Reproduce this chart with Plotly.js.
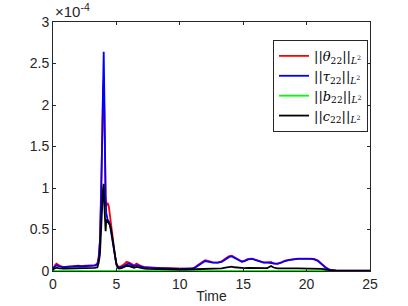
<!DOCTYPE html>
<html><head><meta charset="utf-8">
<script src="https://cdn.plot.ly/plotly-3.0.1.min.js"></script>
<style>html,body{margin:0;padding:0;background:#fff}#chart{width:408px;height:306px}</style>
</head><body><div id="chart"></div>
<script>
// Time values
var time = [0,0.1,0.2,0.3,0.4,0.6,0.8,1.0,1.3,1.6,2.0,2.3,2.6,3.0,3.3,3.5,3.6,3.7,3.8,3.9,3.95,4.0,4.05,4.1,4.15,4.2,4.3,4.4,4.5,4.6,4.7,4.8,4.9,5.0,5.1,5.2,5.4,5.6,5.8,6.0,6.2,6.4,6.6,6.8,7.0,7.2,7.5,8,8.5,9,9.5,10,10.5,11,11.2,11.4,11.6,11.8,12,12.3,12.6,13,13.3,13.6,13.9,14.1,14.3,14.6,14.9,15.1,15.4,15.7,16,16.3,16.6,16.9,17.2,17.4,17.7,18,18.3,18.6,19,19.3,19.6,20,20.3,20.6,20.9,21.2,21.5,21.8,22,22.3,22.6,23,23.5,24,24.5,25];
// Norms, in units of 1e-4
var theta22 = [0.02,0.06,0.08,0.09,0.075,0.06,0.05,0.05,0.055,0.06,0.065,0.06,0.065,0.065,0.07,0.09,0.16,0.36,0.9,1.7,2.2,2.3,1.9,1.2,0.85,0.78,0.82,0.78,0.65,0.5,0.38,0.27,0.17,0.09,0.06,0.05,0.06,0.08,0.11,0.1,0.08,0.07,0.09,0.07,0.055,0.05,0.045,0.04,0.035,0.035,0.03,0.028,0.028,0.032,0.045,0.07,0.09,0.11,0.13,0.12,0.105,0.1,0.115,0.15,0.18,0.185,0.165,0.135,0.115,0.125,0.145,0.15,0.135,0.12,0.105,0.105,0.11,0.09,0.09,0.105,0.125,0.135,0.145,0.15,0.15,0.155,0.15,0.145,0.125,0.085,0.045,0.017,0.009,0.006,0.005,0.004,0.004,0.003,0.003,0.003];
var tau22 = [0.02,0.05,0.06,0.07,0.06,0.05,0.045,0.05,0.05,0.055,0.06,0.055,0.06,0.06,0.065,0.08,0.15,0.35,0.9,1.8,2.4,2.64,2.1,1.3,0.9,0.7,0.62,0.6,0.55,0.45,0.35,0.25,0.15,0.08,0.05,0.04,0.05,0.06,0.08,0.09,0.07,0.06,0.07,0.06,0.05,0.045,0.04,0.035,0.03,0.03,0.028,0.025,0.025,0.03,0.04,0.06,0.08,0.1,0.12,0.11,0.1,0.1,0.11,0.14,0.17,0.175,0.16,0.13,0.11,0.12,0.14,0.145,0.13,0.115,0.1,0.1,0.095,0.085,0.085,0.1,0.12,0.13,0.14,0.145,0.145,0.15,0.145,0.14,0.12,0.08,0.04,0.015,0.008,0.005,0.004,0.004,0.003,0.003,0.003,0.003];
var b22 = [0.002,0.002,0.002,0.002,0.002,0.002,0.002,0.002,0.002,0.002,0.002,0.002,0.002,0.002,0.002,0.003,0.004,0.005,0.006,0.007,0.008,0.008,0.008,0.007,0.007,0.006,0.006,0.006,0.005,0.005,0.004,0.004,0.003,0.003,0.003,0.003,0.003,0.003,0.003,0.003,0.003,0.003,0.003,0.003,0.002,0.002,0.002,0.002,0.002,0.002,0.002,0.002,0.002,0.002,0.002,0.002,0.002,0.002,0.002,0.002,0.002,0.002,0.002,0.002,0.002,0.002,0.002,0.002,0.002,0.002,0.002,0.002,0.002,0.002,0.002,0.002,0.002,0.002,0.002,0.002,0.002,0.002,0.002,0.002,0.002,0.002,0.002,0.002,0.002,0.002,0.002,0.002,0.001,0.001,0.001,0.001,0.001,0.001,0.001,0.001];
var c22 = [0.01,0.03,0.035,0.04,0.035,0.03,0.028,0.03,0.03,0.032,0.035,0.033,0.035,0.035,0.038,0.045,0.1,0.2,0.45,0.85,1.0,1.05,0.8,0.6,0.48,0.62,0.6,0.58,0.55,0.48,0.38,0.25,0.15,0.08,0.04,0.03,0.035,0.045,0.06,0.06,0.05,0.04,0.05,0.04,0.03,0.028,0.025,0.022,0.02,0.02,0.02,0.018,0.018,0.02,0.022,0.025,0.027,0.03,0.032,0.03,0.03,0.03,0.032,0.04,0.05,0.052,0.045,0.038,0.035,0.035,0.037,0.037,0.033,0.03,0.03,0.035,0.06,0.042,0.032,0.03,0.03,0.03,0.032,0.032,0.032,0.033,0.032,0.032,0.03,0.025,0.018,0.008,0.005,0.003,0.002,0.002,0.002,0.002,0.002,0.002];
var names = ["||<i>θ</i><sub>22</sub>||<sub><i>L</i><sup>2</sup></sub>","||<i>τ</i><sub>22</sub>||<sub><i>L</i><sup>2</sup></sub>","||<i>b</i><sub>22</sub>||<sub><i>L</i><sup>2</sup></sub>","||<i>c</i><sub>22</sub>||<sub><i>L</i><sup>2</sup></sub>"];
var yTicks = [0,0.5,1,1.5,2,2.5,3];
var yTickText = ["0","0.5","1","1.5","2","2.5","3"];
var xTicks = [0,5,10,15,20,25];

var colors = ["#ff0000","#0000ff","#00ff00","#000000"];
var series = [theta22,tau22,b22,c22];
var traces = series.map(function(s,i){
  return {x: time, y: s, type:"scatter", mode:"lines", name:names[i],
    line:{color:colors[i], width:1.8}};
});
var tf = {family:"Liberation Sans, Arial, sans-serif", size:14, color:"#262626"};
var axisCommon = {showline:true, linecolor:"#262626", linewidth:1, mirror:"ticks",
  ticks:"inside", ticklen:3, tickcolor:"#262626", showgrid:false, zeroline:false,
  tickfont:tf};
var layout = {
  width:408, height:306, paper_bgcolor:"#fff", plot_bgcolor:"#fff",
  margin:{l:53, r:38, t:22, b:35},
  showlegend:true,
  xaxis: Object.assign({}, axisCommon, {range:[0,25], tickvals:xTicks,
    title:{text:"Time", font:tf, standoff:0}}),
  yaxis: Object.assign({}, axisCommon, {range:[0,3], tickvals:yTicks, ticktext:yTickText}),
  legend:{x:0.694, y:0.928, xanchor:"left", yanchor:"top", bgcolor:"#fff",
    bordercolor:"#262626", borderwidth:1, tracegroupgap:0, itemwidth:30,
    font:{family:"DejaVu Serif, serif", size:13, color:"#000"}},
  annotations:[{xref:"paper", yref:"paper", x:0, y:1, xanchor:"left", yanchor:"bottom",
    text:"×10<sup>-4</sup>", showarrow:false,
    font:{family:"Liberation Sans, Arial, sans-serif", size:15, color:"#262626"}}]
};
Plotly.newPlot("chart", traces, layout, {displayModeBar:false, staticPlot:true});
</script></body></html>
